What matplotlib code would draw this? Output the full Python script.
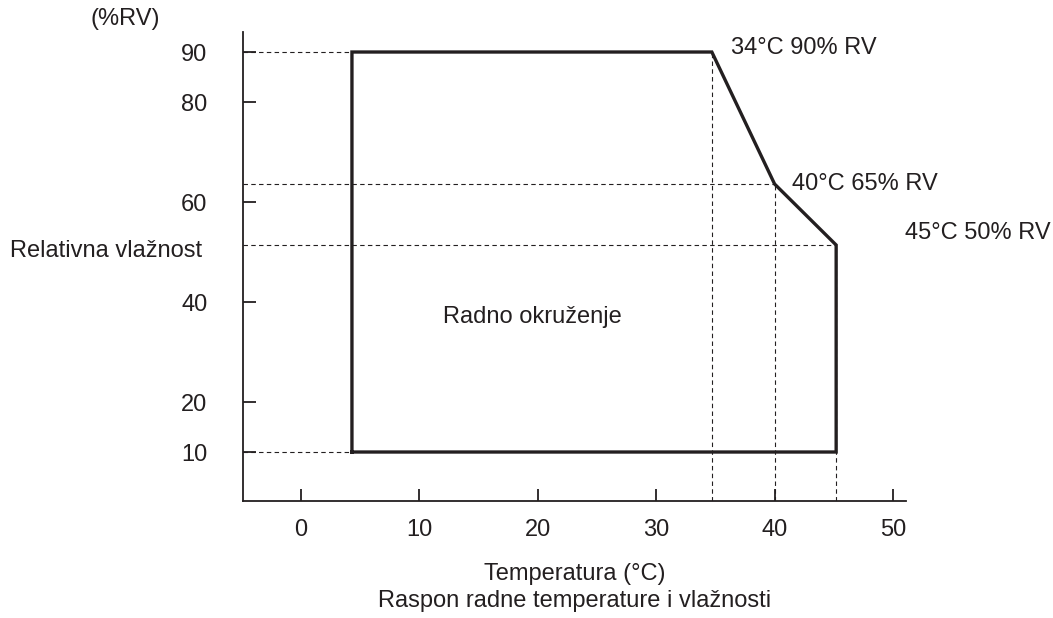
import matplotlib
matplotlib.use("Agg")
import matplotlib.pyplot as plt

plt.rcParams["font.family"] = ["Liberation Sans", "DejaVu Sans"]

# Operating envelope corners (as drawn)
env_temp = [4.3, 4.3, 34.7, 40.0, 45.2, 45.2, 4.3]
env_rh = [10, 90, 90, 63.6, 51.4, 10, 10]

# Labelled corner points
corner_temp = [34.7, 40.0, 45.2]
corner_rh = [90, 63.6, 51.4]
corner_labels = ["34°C 90% RV", "40°C 65% RV", "45°C 50% RV"]

# horizontal guides: (rh, x_end)
guide_rh = [90, 63.6, 51.4, 10]
guide_x_end = [4.3, 40.0, 45.2, 4.3]

x_ticks = [0, 10, 20, 30, 40, 50]
y_ticks = [10, 20, 40, 60, 80, 90]

INK = "#231f20"
FS = 17

fig = plt.figure(figsize=(10.53, 6.18), dpi=100)
ax = fig.add_axes([0.2308, 0.1893, 0.8604 - 0.2308, 0.9482 - 0.1893])

xmin, xmax = -4.9, 51.1
ymin, ymax = 0.2, 94.0

# dashed guides
for rh, xe in zip(guide_rh, guide_x_end):
    ax.plot([xmin, xe], [rh, rh], ls=(0, (4, 3)), lw=0.8, color=INK)
for t, rh in zip(corner_temp, corner_rh):
    ax.plot([t, t], [ymin, rh], ls=(0, (4, 3)), lw=0.8, color=INK)

# envelope
ax.plot(env_temp, env_rh, color=INK, lw=2.4, solid_joinstyle="miter")

# corner labels
offsets = [(1.6, 0.8), (1.5, 0.0), (5.8, 2.4)]
for t, rh, lab, (dx, dy) in zip(corner_temp, corner_rh, corner_labels, offsets):
    ax.text(t + dx, rh + dy, lab, fontsize=FS, color=INK, ha="left", va="center")

ax.text(19.5, 37, "Radno okruženje", fontsize=FS, color=INK, ha="center", va="center")

ax.set_xlim(xmin, xmax)
ax.set_ylim(ymin, ymax)
ax.set_xticks(x_ticks)
ax.set_yticks(y_ticks)
ax.spines["top"].set_visible(False)
ax.spines["right"].set_visible(False)
for s in ("left", "bottom"):
    ax.spines[s].set_linewidth(1.3)
    ax.spines[s].set_color(INK)
ax.tick_params(axis="y", direction="in", length=9, width=1.3, pad=25.5,
               labelsize=FS, colors=INK)
ax.tick_params(axis="x", direction="in", length=9, width=1.3, pad=13,
               labelsize=FS, colors=INK)

fig.text(125 / 1053, 1 - 19 / 618, "(%RV)", fontsize=FS, color=INK,
         ha="center", va="center")
fig.text(10 / 1053, 1 - 251 / 618, "Relativna vlažnost", fontsize=FS, color=INK,
         ha="left", va="center")
fig.text(575 / 1053, 1 - 574 / 618, "Temperatura (°C)", fontsize=FS, color=INK,
         ha="center", va="center")
fig.text(575 / 1053, 1 - 601 / 618, "Raspon radne temperature i vlažnosti",
         fontsize=FS, color=INK, ha="center", va="center")

fig.savefig("out.png", dpi=100, facecolor="white")
